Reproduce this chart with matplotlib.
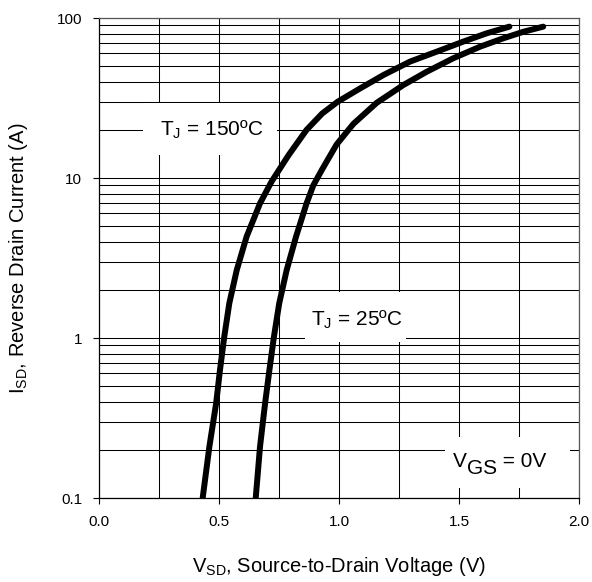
import numpy as np
import matplotlib
matplotlib.use("Agg")
import matplotlib.pyplot as plt
from matplotlib.patches import Rectangle
from matplotlib.ticker import FixedLocator, NullFormatter

# Fonts: Arial-like look
plt.rcParams["font.family"] = ["Liberation Sans", "DejaVu Sans"]
plt.rcParams["mathtext.fontset"] = "custom"
plt.rcParams["mathtext.rm"] = "Liberation Sans"
plt.rcParams["mathtext.it"] = "Liberation Sans"

# Curve data (V_SD in V, I_SD in A)
V_150 = [0.432, 0.46, 0.488, 0.504, 0.522, 0.543, 0.574, 0.615, 0.671, 0.719, 0.79,
         0.865, 0.93, 0.995, 1.088, 1.185, 1.296, 1.407, 1.518, 1.615, 1.71]
I_150 = [0.1, 0.21, 0.39, 0.63, 1.02, 1.65, 2.66, 4.3, 6.95, 9.5, 13.9,
         20.0, 25.3, 30, 36.3, 44, 53.4, 61.6, 71.2, 80.2, 88.3]
V_25 = [0.653, 0.671, 0.692, 0.71, 0.729, 0.751, 0.782, 0.821, 0.865, 0.893, 0.928, 0.99,
        1.06, 1.157, 1.268, 1.365, 1.476, 1.588, 1.685, 1.768, 1.851]
I_25 = [0.1, 0.21, 0.39, 0.63, 1.02, 1.65, 2.66, 4.3, 6.95, 9.0, 11.2, 16.2,
        21.8, 29.5, 38.1, 46.1, 56, 66.2, 74.7, 82, 88.3]

x_ticks = [0.0, 0.5, 1.0, 1.5, 2.0]
x_labels = ["0.0", "0.5", "1.0", "1.5", "2.0"]
y_ticks = [0.1, 1, 10, 100]
y_labels = ["0.1", "1", "10", "100"]

fig = plt.figure(figsize=(5.92, 5.82), dpi=100)
ax = fig.add_axes([99/592, 84/582, 480/592, 480/582])
ax.set_axisbelow(True)

# Curves
ax.plot(V_150, I_150, "-", color="black", linewidth=4.3, solid_capstyle="round", solid_joinstyle="round", zorder=3)
ax.plot(V_25, I_25, "-", color="black", linewidth=4.3, solid_capstyle="round", solid_joinstyle="round", zorder=3)

ax.set_yscale("log")
ax.set_xlim(0, 2.0)
ax.set_ylim(0.1, 100)

# Ticks and grid
ax.xaxis.set_major_locator(FixedLocator(x_ticks))
ax.set_xticklabels(x_labels)
ax.xaxis.set_minor_locator(FixedLocator(np.arange(0.25, 2.0, 0.5)))
ax.yaxis.set_major_locator(FixedLocator(y_ticks))
ax.set_yticklabels(y_labels)
minor_y = [m * 10.0**e for e in range(-1, 2) for m in range(2, 10)]
ax.yaxis.set_minor_locator(FixedLocator(minor_y))
ax.yaxis.set_minor_formatter(NullFormatter())
ax.tick_params(which="major", direction="out", length=4, width=0.8, pad=8, labelsize=11, top=False, right=False)
ax.tick_params(which="minor", length=0)
ax.grid(True, which="both", color="black", linewidth=0.75)

for side in ["left", "bottom"]:
    ax.spines[side].set_color("black")
    ax.spines[side].set_linewidth(0.9)
for side in ["top", "right"]:
    ax.spines[side].set_color("#555555")
    ax.spines[side].set_linewidth(0.9)

# White boxes behind the annotations (axes fraction)
for (x0, y0, w, h) in [(0.092, 0.715, 0.279, 0.108), (0.429, 0.325, 0.211, 0.104), (0.721, 0.021, 0.260, 0.106)]:
    ax.add_patch(Rectangle((x0, y0), w, h, transform=ax.transAxes, facecolor="white", edgecolor="none", zorder=2))

ax.text(0.235, 0.766, r"T$_\mathregular{J}$ = 150ºC", transform=ax.transAxes, fontsize=15, ha="center", va="center", zorder=4)
ax.text(0.537, 0.372, r"T$_\mathregular{J}$ = 25ºC", transform=ax.transAxes, fontsize=15, ha="center", va="center", zorder=4)

# V_GS = 0V with full size, lowered subscript
t1 = ax.text(0.738, 0.056, "V", transform=ax.transAxes, fontsize=15, ha="left", va="bottom", zorder=4)
t2 = ax.annotate("GS", xy=(1, 0), xycoords=t1, xytext=(0, -5), textcoords="offset points",
                 fontsize=15, ha="left", va="bottom", zorder=4)
ax.annotate(" = 0V", xy=(1, 0), xycoords=t2, xytext=(0, 5), textcoords="offset points",
            fontsize=15, ha="left", va="bottom", zorder=4)

# Axis labels
ax.set_xlabel(r"V$_\mathregular{SD}$, Source-to-Drain Voltage (V)", fontsize=14.5)
ax.set_ylabel(r"I$_\mathregular{SD}$, Reverse Drain Current (A)", fontsize=14.5)
ax.xaxis.set_label_coords(0.5, -0.118)
ax.yaxis.set_label_coords(-0.143, 0.5)

plt.savefig("out.png", dpi=100)
plt.close()
